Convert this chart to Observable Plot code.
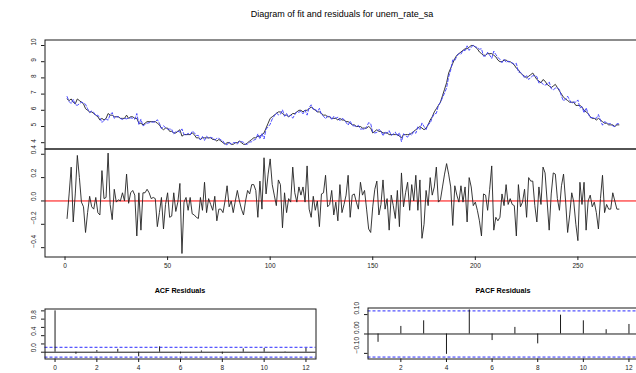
<!DOCTYPE html>
<html>
<head>
<meta charset="utf-8">
<script src="https://cdn.jsdelivr.net/npm/d3@7"></script>
<script src="https://cdn.jsdelivr.net/npm/@observablehq/plot@0.6"></script>
<style>
  html, body { margin: 0; padding: 0; background: #fff; }
  #fig { position: relative; width: 636px; height: 373px; overflow: hidden;
         font-family: "Liberation Sans", Arial, Helvetica, sans-serif; color: #000; }
  #fig svg { position: absolute; }
  .ttl { position: absolute; white-space: nowrap; transform: translateX(-50%); line-height: 1; }
</style>
</head>
<body>
<div id="fig"></div>
<script>
// Monthly unemployment rate (seasonally adjusted), observations 1..270
const unemp = [
  6.7,6.6,6.7,6.5,6.4,6.7,6.6,6.5,6.4,6.1,
  6.0,5.9,5.9,5.8,5.7,5.6,5.4,5.5,5.4,5.5,
  5.8,5.7,5.7,5.6,5.6,5.6,5.5,5.5,5.5,5.7,
  5.5,5.6,5.6,5.5,5.5,5.2,5.2,5.1,5.2,5.3,
  5.3,5.3,5.3,5.3,5.2,5.1,4.9,4.8,4.9,4.9,
  4.7,4.7,4.6,4.6,4.7,4.8,4.4,4.5,4.5,4.5,
  4.5,4.6,4.5,4.3,4.3,4.2,4.3,4.3,4.3,4.3,
  4.3,4.2,4.2,4.1,4.2,4.1,4.0,3.9,4.0,4.0,
  3.9,3.9,4.0,4.0,4.1,4.0,3.9,3.9,4.0,4.1,
  4.2,4.3,4.3,4.4,4.4,4.5,4.6,4.9,5.2,5.5,
  5.6,5.7,5.8,5.9,5.9,5.8,5.7,5.7,5.6,5.7,
  5.8,5.8,5.9,6.0,6.0,5.9,6.0,6.0,6.1,6.2,
  6.1,6.0,5.9,5.9,5.8,5.7,5.7,5.6,5.6,5.5,
  5.5,5.5,5.4,5.5,5.4,5.4,5.3,5.3,5.2,5.1,
  5.1,5.0,5.0,5.0,4.9,4.9,4.9,5.0,4.9,4.6,
  4.7,4.8,4.7,4.7,4.6,4.6,4.6,4.5,4.5,4.5,
  4.5,4.5,4.4,4.3,4.5,4.5,4.5,4.5,4.6,4.7,
  4.8,4.9,5.0,4.9,4.8,4.9,5.1,5.4,5.6,5.9,
  6.1,6.3,6.5,6.9,7.3,7.7,8.3,8.6,8.9,9.2,
  9.4,9.5,9.6,9.7,9.8,9.8,9.9,10.0,10.0,9.9,
  9.8,9.6,9.5,9.4,9.4,9.5,9.5,9.5,9.4,9.3,
  9.1,9.0,9.0,9.1,9.1,9.0,9.0,8.9,8.8,8.6,
  8.5,8.3,8.2,8.1,8.0,8.1,8.2,8.3,8.1,7.9,
  7.8,7.7,7.9,7.8,7.6,7.5,7.4,7.5,7.6,7.4,
  7.2,7.0,6.8,6.7,6.6,6.5,6.5,6.5,6.3,6.3,
  6.3,6.2,6.0,5.9,5.8,5.6,5.5,5.5,5.4,5.5,
  5.4,5.3,5.2,5.2,5.1,5.1,5.1,5.0,5.1,5.1
];

// Model residuals (observed minus fitted), same observations
const resid = [
  -0.15, 0.06, 0.29,-0.18, 0.06, 0.39, 0.20,-0.01,-0.05,-0.27,
  -0.10, 0.04,-0.05,-0.07, 0.03,-0.10,-0.12, 0.26, 0.02, 0.03,
   0.41,-0.03,-0.16, 0.10,-0.01, 0.01, 0.00, 0.07, 0.00, 0.23,
  -0.02, 0.07, 0.09, 0.05,-0.30, 0.07,-0.25, 0.07, 0.07, 0.10,
   0.07, 0.02, 0.03, 0.02,-0.22,-0.10, 0.03,-0.24,-0.03, 0.07,
  -0.14,-0.13, 0.07,-0.09,-0.01, 0.15,-0.45,-0.01, 0.03,-0.08,
   0.03,-0.11,-0.12,-0.14,-0.15, 0.03,-0.08, 0.16,-0.10, 0.02,
  -0.03,-0.08, 0.04,-0.17,-0.07,-0.07,-0.10, 0.00, 0.13,-0.05,
   0.00,-0.10, 0.00, 0.09, 0.00,-0.07,-0.12, 0.00, 0.09, 0.06,
   0.14, 0.14, 0.09,-0.14, 0.17,-0.07, 0.37, 0.06, 0.23, 0.36,
   0.14, 0.05,-0.04, 0.18, 0.14,-0.23, 0.07,-0.10, 0.02,-0.01,
   0.29, 0.07,-0.01, 0.12, 0.05, 0.12,-0.01, 0.30,-0.07,-0.14,
   0.04,-0.08, 0.00,-0.22, 0.06, 0.07, 0.22,-0.05,-0.03, 0.09,
  -0.12,-0.01,-0.17, 0.14,-0.10,-0.03, 0.05, 0.22,-0.14, 0.05,
   0.06,-0.01,-0.07, 0.16, 0.05, 0.09,-0.07,-0.24,-0.27,-0.05,
   0.10, 0.17,-0.12,-0.03, 0.18,-0.07, 0.02,-0.25, 0.05,-0.04,
  -0.15, 0.09,-0.22, 0.24,-0.05, 0.07, 0.16,-0.08, 0.14, 0.00,
   0.22,-0.08, 0.18,-0.32,-0.20, 0.09,-0.04, 0.20, 0.05, 0.12,
   0.29,-0.01, 0.01, 0.12, 0.23, 0.32, 0.23, 0.12,-0.21, 0.13,
   0.05,-0.01, 0.13,-0.01, 0.12,-0.18, 0.20, 0.12,-0.04,-0.01,
  -0.08,-0.17,-0.30, 0.06, 0.05,-0.08, 0.10, 0.30,-0.25,-0.14,
  -0.17,-0.14, 0.06,-0.04, 0.14,-0.03, 0.02,-0.03,-0.04,-0.30,
   0.14,-0.05,-0.01, 0.10,-0.14, 0.20, 0.17, 0.17,-0.04,-0.18,
   0.12,-0.03, 0.29, 0.24, 0.00,-0.25, 0.06, 0.24, 0.23, 0.02,
  -0.08, 0.13, 0.23, 0.00,-0.27,-0.12, 0.07,-0.01,-0.20,-0.34,
   0.16,-0.03, 0.16,-0.25, 0.00, 0.05,-0.05,-0.01,-0.10,-0.24,
   0.02, 0.22,-0.10,-0.03,-0.07,-0.07, 0.07, 0.00,-0.07,-0.07
];

// Residual autocorrelations
const acfLags  = [0,1,2,3,4,5,6,7,8,9,10,11,12];
const acfVals  = [1.00,-0.05,0.04,0.07,-0.11,0.13,-0.04,0.03,-0.05,0.08,0.09,0.01,0.09];
const pacfLags = [1,2,3,4,5,6,7,8,9,10,11,12];
const pacfVals = [-0.043,0.039,0.068,-0.105,0.124,-0.034,0.034,-0.051,0.097,0.068,0.022,0.049];
const confBound = 0.119;   // approximate 95% white-noise band

// Tick values
const levelTicks = [4,5,6,7,8,9,10];
const residTicks = [-0.4,-0.2,0,0.2,0.4];
const timeTicks  = [0,50,100,150,200,250];
const acfYTicks  = [0,0.2,0.4,0.6,0.8,1.0];
const acfYLabels = [0,0.4,0.8];
const lagTicks   = [0,2,4,6,8,10,12];
const pacfYTicks = [-0.1,0,0.1];
const pacfLagTicks = [2,4,6,8,10,12];

const mainTitle = "Diagram of fit and residuals for unem_rate_sa";
const acfTitle  = "ACF Residuals";
const pacfTitle = "PACF Residuals";

const rows = unemp.map((v, i) => ({t: i + 1, actual: v, fitted: v - resid[i], resid: resid[i]}));
const acfRows  = acfLags.map((k, i) => ({lag: k, r: acfVals[i]}));
const pacfRows = pacfLags.map((k, i) => ({lag: k, r: pacfVals[i]}));

const fig = document.getElementById("fig");
const INK = "#1a1a1a";
const TICK_FS = 6.5;
const svgStyle = {background: "transparent", maxWidth: "none", overflow: "visible",
                  fontFamily: '"Liberation Sans", Arial, Helvetica, sans-serif', fontSize: "6.5px", color: INK};

function place(node, left, top) {
  node.style.position = "absolute";
  node.style.left = left + "px";
  node.style.top = top + "px";
  fig.appendChild(node);
}

function label(text, cx, top, size, bold) {
  const d = document.createElement("div");
  d.className = "ttl";
  d.textContent = text;
  d.style.left = cx + "px";
  d.style.top = top + "px";
  d.style.fontSize = size + "px";
  if (bold) d.style.fontWeight = "bold";
  fig.appendChild(d);
}

// rotated y tick labels, R style (parallel to the axis)
const yLabels = (ticks, fmt, dx) =>
  Plot.text(ticks, {y: d => d, text: d => fmt(d), frameAnchor: "left", dx, rotate: -90,
                    fontSize: TICK_FS, fill: INK});
const yTicks = (ticks) =>
  Plot.axisY(ticks, {anchor: "left", tickSize: 3.5, tickFormat: () => "", label: null, stroke: INK});
const xTicks = (ticks) =>
  Plot.axisX(ticks, {anchor: "bottom", tickSize: 3.5, tickFormat: () => "", label: null, stroke: INK});
const xLabels = (ticks, dy) =>
  Plot.text(ticks, {x: d => d, text: d => String(d), frameAnchor: "bottom", dy,
                    fontSize: TICK_FS, fill: INK});

const xDomain = [-9.76, 280.76];

// --- observed series with fitted values ---
const fitPlot = Plot.plot({
  width: 646, height: 150,
  marginTop: 39.5, marginBottom: 1.5, marginLeft: 44.5, marginRight: 5.5,
  style: svgStyle,
  x: {domain: xDomain, axis: null},
  y: {domain: [3.61, 10.34], axis: null},
  marks: [
    Plot.line(rows, {x: "t", y: "actual", stroke: "#222", strokeWidth: 0.9}),
    Plot.line(rows, {x: "t", y: "fitted", stroke: "#3a3aff", strokeWidth: 0.9, strokeDasharray: "3,2"}),
    yTicks(levelTicks),
    yLabels(levelTicks, d => String(d), -11),
    Plot.frame({stroke: INK})
  ]
});
place(fitPlot, 0, 0);

// --- residuals ---
const residPlot = Plot.plot({
  width: 646, height: 140,
  marginTop: 8.5, marginBottom: 23.5, marginLeft: 44.5, marginRight: 5.5,
  style: svgStyle,
  x: {domain: xDomain, axis: null},
  y: {domain: [-0.48, 0.445], axis: null},
  marks: [
    Plot.ruleY([0], {stroke: "#ff0000", strokeWidth: 1}),
    Plot.line(rows, {x: "t", y: "resid", stroke: "#222", strokeWidth: 0.9}),
    yTicks(residTicks),
    yLabels(residTicks, d => d3.format(".1f")(d), -11),
    xTicks(timeTicks),
    xLabels(timeTicks, 11),
    Plot.frame({stroke: INK})
  ]
});
place(residPlot, 0, 140);

// --- ACF of residuals ---
const acfPlot = Plot.plot({
  width: 330, height: 83,
  marginTop: 18.5, marginBottom: 14.5, marginLeft: 44.5, marginRight: 14.5,
  style: svgStyle,
  x: {domain: [-0.48, 12.48], axis: null},
  y: {domain: [-0.164, 1.045], axis: null},
  marks: [
    Plot.ruleY([confBound, -confBound], {stroke: "#2a2aff", strokeDasharray: "3,2"}),
    Plot.ruleY([0], {stroke: INK}),
    Plot.ruleX(acfRows, {x: "lag", y1: 0, y2: "r", stroke: INK}),
    yTicks(acfYTicks),
    yLabels(acfYLabels, d => d3.format(".1f")(d), -11),
    xTicks(lagTicks),
    xLabels(lagTicks, 10.5),
    Plot.frame({stroke: INK})
  ]
});
place(acfPlot, 0, 290);

// --- PACF of residuals ---
const pacfPlot = Plot.plot({
  width: 330, height: 83,
  marginTop: 17.5, marginBottom: 14.5, marginLeft: 44.5, marginRight: 14.5,
  style: svgStyle,
  x: {domain: [0.56, 12.44], axis: null},
  y: {domain: [-0.129, 0.134], axis: null},
  marks: [
    Plot.ruleY([confBound, -confBound], {stroke: "#2a2aff", strokeDasharray: "3,2"}),
    Plot.ruleY([0], {stroke: INK}),
    Plot.ruleX(pacfRows, {x: "lag", y1: 0, y2: "r", stroke: INK}),
    yTicks(pacfYTicks),
    yLabels(pacfYTicks, d => d3.format(".2f")(d), -11),
    xTicks(pacfLagTicks),
    xLabels(pacfLagTicks, 10.5),
    Plot.frame({stroke: INK})
  ]
});
place(pacfPlot, 323, 290);

label(mainTitle, 342, 10, 9, false);
label(acfTitle, 180, 287, 7.2, true);
label(pacfTitle, 503, 287, 7.2, true);
</script>
</body>
</html>
